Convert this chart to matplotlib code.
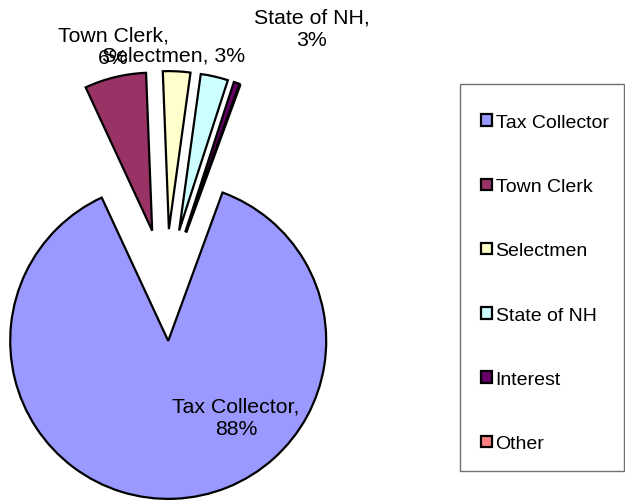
import matplotlib
matplotlib.use("Agg")
import matplotlib.pyplot as plt
from matplotlib.patches import Rectangle

plt.rcParams["font.family"] = ["Liberation Sans", "DejaVu Sans"]

# shares of revenue by source (percent)
sources = ["Tax Collector", "Town Clerk", "Selectmen", "State of NH", "Interest", "Other"]
shares = [87.5, 6.3, 2.8, 2.8, 0.6, 0.0]
colors = ["#9999FF", "#993366", "#FFFFCC", "#CCFFFF", "#660066", "#FF8080"]
explode = [0.335, 0.373, 0.373, 0.373, 0.373, 0.373]
# data labels shown on the chart (Interest / Other have none)
label_text = ["Tax Collector,\n{:.0f}%", "Town Clerk,\n{:.0f}%", "Selectmen, {:.0f}%",
              "State of NH,\n{:.0f}%", None, None]

# pixel layout of the original chart
W, H = 625, 502
CX, CY, R = 166, 289, 158


def px(x, y):
    return (x - CX) / R, (CY - y) / R


label_pos = [px(236, 418), px(113, 47), px(174, 56), px(311.5, 29), None, None]

fig = plt.figure(figsize=(W / 100, H / 100), dpi=100)
ax = fig.add_axes([0, 0, 1, 1])
wedges, _ = ax.pie(shares, colors=colors, explode=explode, startangle=69.9,
                   counterclock=False, radius=1.0,
                   wedgeprops=dict(edgecolor="black", linewidth=1.6))

for txt, val, pos in zip(label_text, shares, label_pos):
    if txt is None:
        continue
    ax.text(pos[0], pos[1], txt.format(val), ha="center", va="center",
            fontsize=15.3, linespacing=1.25)

x0, y0 = px(0, H)
x1, y1 = px(W, 0)
ax.set_xlim(x0, x1)
ax.set_ylim(y0, y1)
ax.set_aspect("auto")
ax.axis("off")

# legend frame drawn separately so its box matches the original
fig.patches.append(Rectangle((460 / W, 1 - 472 / H), 164 / W, 387 / H,
                             transform=fig.transFigure, fill=False,
                             edgecolor="#707070", linewidth=1.0))
leg = fig.legend(wedges, sources, loc="upper left",
                 bbox_to_anchor=(481 / W, 1 - 115 / H),
                 fontsize=14, frameon=False,
                 handlelength=0.55, handleheight=0.55, handletextpad=0.2,
                 labelspacing=2.43, borderpad=0, borderaxespad=0)

fig.savefig("out.png", dpi=100)
